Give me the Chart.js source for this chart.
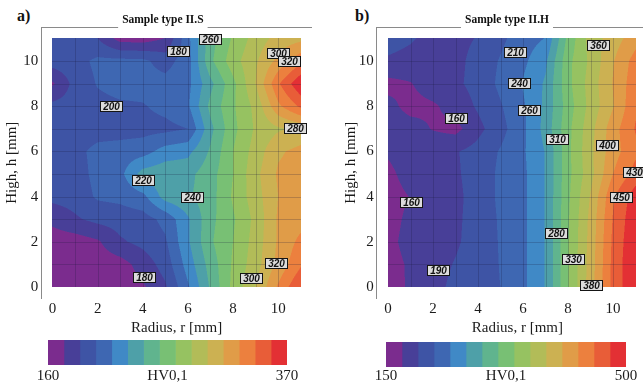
<!DOCTYPE html>
<html>
<head>
<meta charset="utf-8">
<script src="https://cdn.jsdelivr.net/npm/chart.js@4.4.1/dist/chart.umd.min.js"></script>
<style>
  html, body { margin: 0; padding: 0; background: #fff; width: 643px; height: 386px; overflow: hidden; }
  canvas { position: absolute; }
  .tag { position: absolute; font: bold 16px "Liberation Serif", serif; line-height: 16px; color: #111; }
</style>
</head>
<body>
<div class="tag" style="left:17px;top:8px">a)</div>
<div class="tag" style="left:355px;top:8px">b)</div>
<canvas id="mainA" width="312" height="345" style="left:0;top:0"></canvas>
<canvas id="mainB" width="319" height="345" style="left:339px;top:0"></canvas>
<canvas id="barA" width="330" height="56" style="left:0;top:330px"></canvas>
<canvas id="barB" width="336" height="54" style="left:339px;top:332px"></canvas>
<script>
// grid positions (mm)
const radiusMm = [0, 1, 2, 3, 4, 5, 6, 7, 8, 9, 10, 11];
const heightMm = [11, 10, 9, 8, 7, 6, 5, 4, 3, 2, 1, 0];

// HV0,1, one row per height (top row = 11 mm)
const hardnessA = [
  [193, 193, 188, 168, 167, 174.5, 212, 252, 274, 292, 305, 310],
  [195, 197, 205, 206, 205, 196, 210, 255, 280, 298, 318, 338],
  [172, 193, 203, 207, 207, 207, 212, 240, 268, 300, 340, 368],
  [192, 194, 198, 200, 201, 206, 214, 248, 270, 290, 325, 345],
  [193, 194, 196, 196, 197, 198, 202, 240, 268, 288, 298, 304],
  [193, 198, 206, 208, 210, 222, 226, 246, 272, 292, 312, 318],
  [192, 196, 206, 212, 236, 240, 240, 252, 272, 296, 316, 320],
  [192, 194, 204, 206, 212, 236, 242, 252, 274, 294, 314, 322],
  [178, 186, 192, 194, 196, 206, 228, 254, 270, 290, 316, 322],
  [166, 167, 172, 186, 192, 200, 228, 256, 272, 292, 316, 332],
  [164, 164, 166, 168, 180, 194, 222, 250, 274, 294, 318, 340],
  [164, 164, 164, 166, 172, 186, 214, 246, 276, 300, 330, 356]
];
const hardnessB = [
  [205, 199, 190, 190, 198, 215, 232, 244, 320, 370, 395, 420],
  [194, 190, 188, 190, 205, 222, 238, 262, 330, 365, 405, 440],
  [166, 172, 186, 192, 205, 225, 245, 270, 330, 370, 408, 445],
  [180, 166, 170, 182, 200, 218, 240, 272, 325, 368, 405, 450],
  [185, 182, 172, 166, 190, 212, 238, 275, 330, 375, 420, 455],
  [176, 185, 190, 195, 205, 222, 240, 268, 330, 378, 420, 448],
  [168, 182, 188, 194, 205, 225, 238, 268, 330, 375, 430, 462],
  [165, 174, 185, 192, 205, 225, 238, 268, 332, 385, 450, 490],
  [166, 178, 187, 193, 205, 223, 238, 268, 334, 390, 455, 495],
  [168, 180, 188, 194, 205, 222, 238, 268, 335, 392, 458, 498],
  [166, 176, 189, 198, 208, 221, 238, 268, 335, 394, 460, 500],
  [165, 176, 190, 202, 212, 220, 238, 268, 335, 395, 460, 500]
];

// colour classes of the two legends
const levelsA = [160, 174, 188, 202, 216, 230, 244, 258, 272, 286, 300, 314, 328, 342, 356, 370];
const levelsB = [150, 173.3, 196.7, 220, 243.3, 266.7, 290, 313.3, 336.7, 360, 383.3, 406.7, 430, 453.3, 476.7, 500];
const bandColors = ['#7b2c8e', '#483f98', '#3e54a5', '#3e67b2', '#4089c6', '#4ea0a8', '#60b48e', '#78c074',
                    '#96c261', '#b2bc58', '#ccb152', '#e09c48', '#ec803e', '#e85d38', '#e33034'];

// contour labels
const labelTextA = ['180', '260', '300', '320', '200', '280', '220', '240', '180', '300', '320'];
const labelRA = [5.56, 7.0, 10.0, 10.47, 2.6, 10.73, 4.02, 6.16, 4.04, 8.8, 9.91];
const labelHA = [10.44, 10.97, 10.35, 10.0, 8.0, 7.03, 4.73, 3.98, 0.44, 0.38, 1.04];
const labelTextB = ['210', '360', '240', '260', '160', '310', '400', '430', '450', '160', '280', '330', '190', '380'];
const labelRB = [5.64, 9.33, 5.84, 6.27, 3.0, 7.53, 9.73, 10.95, 10.36, 1.02, 7.47, 8.24, 2.24, 9.0];
const labelHB = [10.4, 10.73, 9.03, 7.81, 7.48, 6.57, 6.3, 5.1, 4.0, 3.74, 2.41, 1.26, 0.75, 0.11];

const rTicks = [0, 2, 4, 6, 8, 10];
const hTicks = [0, 2, 4, 6, 8, 10];
const barTicksA = [160, 265, 370];
const barTicksB = [150, 325, 500];

const serif = '"Liberation Serif", "Times New Roman", serif';
const ink = '#1b1b1b';

function hexToRgb(h) {
  return [parseInt(h.slice(1, 3), 16), parseInt(h.slice(3, 5), 16), parseInt(h.slice(5, 7), 16)];
}
const bandRgb = bandColors.map(hexToRgb);

function sampleGrid(grid, r, h) {
  let i = 0;
  while (i < radiusMm.length - 2 && r > radiusMm[i + 1]) i++;
  let k = 0;
  while (k < heightMm.length - 2 && h < heightMm[k + 1]) k++;
  const tx = Math.min(1, Math.max(0, (r - radiusMm[i]) / (radiusMm[i + 1] - radiusMm[i])));
  const ty = Math.min(1, Math.max(0, (heightMm[k] - h) / (heightMm[k] - heightMm[k + 1])));
  return grid[k][i] * (1 - tx) * (1 - ty) + grid[k][i + 1] * tx * (1 - ty) +
         grid[k + 1][i] * (1 - tx) * ty + grid[k + 1][i + 1] * tx * ty;
}

function bandOf(levels, v) {
  let b = 0;
  while (b < levels.length - 2 && v >= levels[b + 1]) b++;
  return b;
}

function contourLayer(grid, levels) {
  return {
    id: 'contourLayer',
    beforeDatasetsDraw(chart) {
      const { ctx, scales: { x, y } } = chart;
      const left = Math.floor(x.getPixelForValue(radiusMm[0]));
      const right = Math.ceil(x.getPixelForValue(radiusMm[radiusMm.length - 1]));
      const top = Math.floor(y.getPixelForValue(heightMm[0]));
      const bottom = Math.ceil(y.getPixelForValue(heightMm[heightMm.length - 1]));
      const w = right - left, h = bottom - top;
      const img = ctx.createImageData(w, h);
      const offs = [[0.25, 0.25], [0.75, 0.25], [0.25, 0.75], [0.75, 0.75]];
      for (let j = 0; j < h; j++) {
        for (let i = 0; i < w; i++) {
          let cr = 0, cg = 0, cb = 0;
          for (const [ox, oy] of offs) {
            const r = x.getValueForPixel(left + i + ox);
            const hv = y.getValueForPixel(top + j + oy);
            const c = bandRgb[bandOf(levels, sampleGrid(grid, r, hv))];
            cr += c[0]; cg += c[1]; cb += c[2];
          }
          const k = (j * w + i) * 4;
          img.data[k] = cr / 4;
          img.data[k + 1] = cg / 4;
          img.data[k + 2] = cb / 4;
          img.data[k + 3] = 255;
        }
      }
      ctx.putImageData(img, left, top);

      // mesh lines
      ctx.save();
      ctx.strokeStyle = 'rgba(25,25,60,0.22)';
      ctx.lineWidth = 1;
      ctx.beginPath();
      radiusMm.slice(1, -1).forEach(r => {
        const p = Math.round(x.getPixelForValue(r)) + 0.5;
        ctx.moveTo(p, top); ctx.lineTo(p, bottom);
      });
      heightMm.slice(1, -1).forEach(v => {
        const p = Math.round(y.getPixelForValue(v)) + 0.5;
        ctx.moveTo(left, p); ctx.lineTo(right, p);
      });
      ctx.stroke();
      ctx.restore();
    }
  };
}

const tagLayer = {
  id: 'tagLayer',
  afterDatasetsDraw(chart) {
    const ctx = chart.ctx;
    const pts = chart.data.datasets[0].data;
    ctx.save();
    ctx.font = 'italic bold 10px "Liberation Sans", Arial, sans-serif';
    ctx.textAlign = 'center';
    ctx.textBaseline = 'middle';
    chart.getDatasetMeta(0).data.forEach((el, i) => {
      const t = pts[i].t;
      const w = Math.round(ctx.measureText(t).width + 5);
      const bx = Math.round(el.x - w / 2) + 0.5, by = Math.round(el.y - 5) + 0.5;
      ctx.fillStyle = '#dcdcdc';
      ctx.fillRect(bx, by, w, 10);
      ctx.strokeStyle = '#151515';
      ctx.lineWidth = 1;
      ctx.strokeRect(bx, by, w, 10);
      ctx.fillStyle = '#111';
      ctx.fillText(t, bx + w / 2, by + 5.5);
    });
    ctx.restore();
  }
};

const frameLayer = {
  id: 'frameLayer',
  afterDraw(chart) {
    const { ctx, chartArea } = chart;
    const tb = chart.titleBlock;
    const cx = (tb.left + tb.right) / 2;
    ctx.save();
    ctx.font = 'bold 11.5px ' + serif;
    const half = ctx.measureText(chart.options.plugins.title.text).width / 2 + 4;
    const yTop = Math.round(chartArea.top) + 0.5;
    ctx.strokeStyle = '#8a8a8a';
    ctx.lineWidth = 1;
    ctx.beginPath();
    ctx.moveTo(chartArea.left, yTop); ctx.lineTo(cx - half, yTop);
    ctx.moveTo(cx + half, yTop); ctx.lineTo(chartArea.right, yTop);
    ctx.stroke();
    ctx.restore();
  }
};

function makeMain(id, title, grid, levels, texts, rs, hs, rMax, padLeft, yWidth, yTitlePad) {
  new Chart(document.getElementById(id), {
    type: 'scatter',
    data: {
      datasets: [{
        data: texts.map((t, i) => ({ x: rs[i], y: hs[i], t: t })),
        pointRadius: 0
      }]
    },
    options: {
      responsive: false,
      animation: false,
      devicePixelRatio: 1,
      events: [],
      layout: { padding: { left: padLeft, right: 0, top: 0, bottom: 0 } },
      plugins: {
        legend: { display: false },
        tooltip: { enabled: false },
        title: {
          display: true, text: title, color: '#111',
          font: { family: serif, size: 11.5, weight: 'bold' },
          padding: { top: 13.3, bottom: 0 }
        }
      },
      scales: {
        x: {
          type: 'linear', min: -0.5, max: rMax,
          afterFit: s => { s.height = 46.7; },
          afterBuildTicks: ax => { ax.ticks = rTicks.map(v => ({ value: v })); },
          ticks: { font: { family: serif, size: 15 }, color: ink, padding: 2, maxRotation: 0, autoSkip: false },
          grid: { display: false, drawTicks: false },
          border: { display: false },
          title: { display: true, text: 'Radius, r [mm]', color: ink, font: { family: serif, size: 15 }, padding: { top: 0, bottom: 8 } }
        },
        y: {
          type: 'linear', min: -0.5, max: 11.5,
          afterFit: s => { s.width = yWidth; },
          afterBuildTicks: ax => { ax.ticks = hTicks.map(v => ({ value: v })); },
          ticks: { font: { family: serif, size: 15 }, color: ink, padding: 3, autoSkip: false },
          grid: { display: false, drawTicks: false },
          border: { display: true, color: '#8a8a8a', width: 1 },
          title: { display: true, text: 'High, h [mm]', color: ink, font: { family: serif, size: 15 }, padding: { top: yTitlePad, bottom: 0 } }
        }
      }
    },
    plugins: [contourLayer(grid, levels), tagLayer, frameLayer]
  });
}

function makeBar(id, levels, tickVals, padL, padR, padTop, axisH, tickPad) {
  new Chart(document.getElementById(id), {
    type: 'bar',
    data: {
      labels: [''],
      datasets: bandColors.map((c, i) => ({
        data: [[levels[i], levels[i + 1]]],
        backgroundColor: c,
        borderWidth: 0,
        barPercentage: 1,
        categoryPercentage: 1,
        grouped: false
      }))
    },
    options: {
      indexAxis: 'y',
      responsive: false,
      animation: false,
      devicePixelRatio: 1,
      events: [],
      layout: { padding: { left: padL, right: padR, top: padTop, bottom: 0 } },
      plugins: { legend: { display: false }, tooltip: { enabled: false } },
      scales: {
        x: {
          type: 'linear', min: levels[0], max: levels[levels.length - 1],
          afterFit: s => { s.height = axisH; },
          afterBuildTicks: ax => { ax.ticks = tickVals.map(v => ({ value: v })); },
          ticks: {
            callback: v => (v === tickVals[1] ? 'HV0,1' : v),
            font: { family: serif, size: 15 }, color: ink, padding: tickPad, maxRotation: 0, autoSkip: false
          },
          grid: { display: false, drawTicks: false },
          border: { display: false }
        },
        y: { display: false }
      }
    }
  });
}

makeMain('mainA', 'Sample type II.S', hardnessA, levelsA, labelTextA, labelRA, labelHA, 11.5, 13.75, 27.5, -10.75);
makeMain('mainB', 'Sample type II.H', hardnessB, levelsB, labelTextB, labelRB, labelHB, 12, 17, 20.75, -14);
makeBar('barA', levelsA, barTicksA, 48, 43, 10, 21, 2);
makeBar('barB', levelsB, barTicksB, 47, 49, 10, 19, 0);
</script>
</body>
</html>
